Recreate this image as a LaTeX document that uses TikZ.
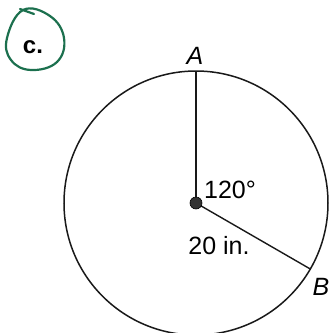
\documentclass[tikz,border=0pt]{standalone}
\usepackage{fontspec}
\setmainfont{Liberation Sans}
\usepackage{tikz}
\usetikzlibrary{positioning}
\definecolor{penGreen}{RGB}{28,112,78}
\tikzset{
  rim/.style    ={draw, line width=1.5pt, black!90},
  spoke/.style  ={draw, line width=1.4pt, black!90},
  ctr/.style    ={circle, fill=black!80, draw=black, minimum size=12pt,
                  inner sep=0pt, line width=0.6pt},
  ptlbl/.style  ={font=\fontsize{25}{28}\selectfont\itshape, inner sep=0pt},
  val/.style    ={font=\fontsize{25}{28}\selectfont, inner sep=0pt},
  tag/.style    ={font=\fontsize{24}{28}\selectfont\bfseries, inner sep=0pt},
  ink/.style    ={draw=penGreen, line width=2.2pt, line cap=round},
}
\begin{document}
\begin{tikzpicture}[x=1pt, y=-1pt]
\useasboundingbox (0,0) rectangle (331,333);
% circle with its centre and the two radii
\coordinate (O) at (196,203);
\coordinate (A) at (196,71);
\coordinate (B) at (310.3,269);
\draw[rim] (O) circle[radius=132pt];
\draw[spoke] (O) -- (A);
\draw[spoke] (O) -- (B);
\node[ctr] (dot) at (O) {};
\node[ptlbl] (lA) at (195,56) {A};
\node[ptlbl] (lB) at (321,287) {B};
\node[val] (ang) at (230,190) {120\textdegree};
\node[val] (len) at (219,246) {20 in.};
% hand-circled label
\node[tag] (c) at (33,47) {c.};
\draw[ink] plot[smooth cycle, tension=0.7] coordinates
  {(23,10) (50,16) (64,38) (57,62) (31,70) (11,60) (7,38)};
\draw[ink] (20,9) -- (34,14);
\end{tikzpicture}
\end{document}
